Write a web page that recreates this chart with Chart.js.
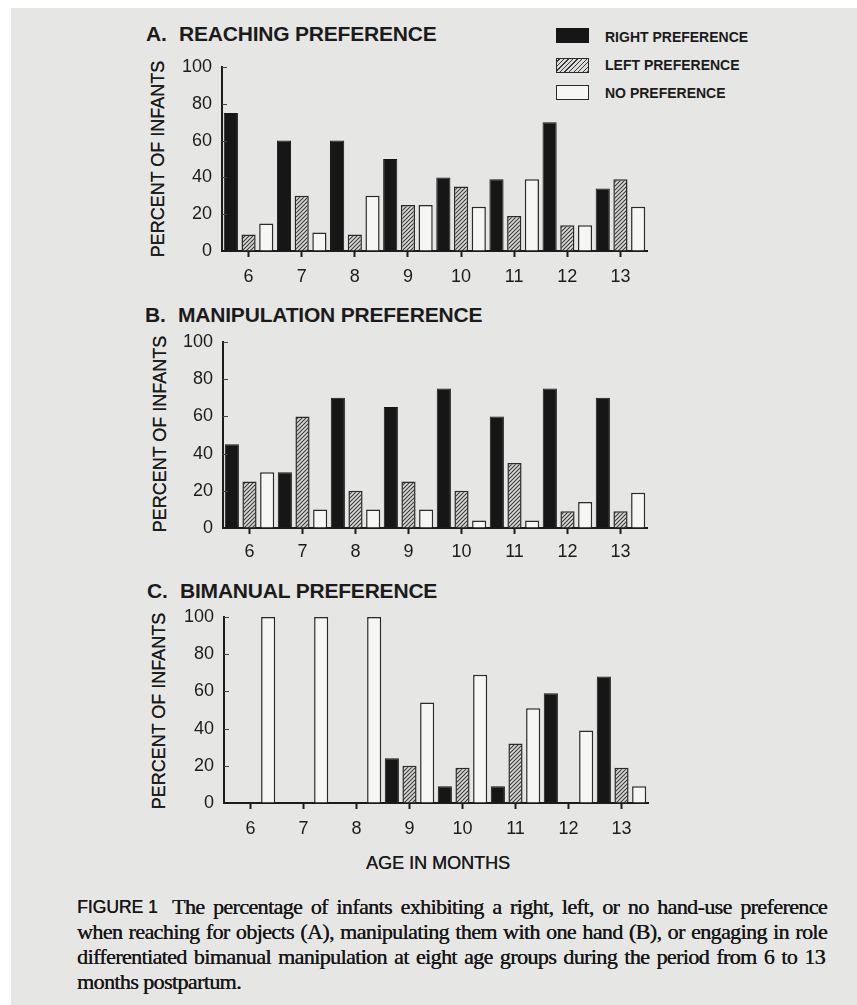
<!DOCTYPE html>
<html>
<head>
<meta charset="utf-8">
<script src="https://cdn.jsdelivr.net/npm/chart.js@4.4.1/dist/chart.umd.min.js"></script>
<style>
  html, body { margin: 0; padding: 0; background: #ffffff; }
  body { width: 857px; height: 1005px; position: relative; overflow: hidden;
         font-family: "Liberation Sans", Arial, sans-serif; color: #1b1b1b; }
  #paper { position: absolute; left: 11px; top: 8px; right: 0; bottom: 0; background: #e6e6e4; }
  canvas.plot { position: absolute; left: 0; }
  .ptitle { position: absolute; font-weight: bold; font-size: 21px; line-height: 21px; white-space: nowrap; letter-spacing: -0.2px; }
  .ptitle .lt { display: inline-block; width: 33px; }
  .ytitle { position: absolute; font-size: 18px; line-height: 18px; white-space: nowrap;
            transform: translate(-50%, -50%) rotate(-90deg); text-shadow: 0 0.3px 0 #1b1b1b; }
  .lg-box { position: absolute; left: 556px; width: 31px; height: 13px; box-sizing: content-box; }
  .lg-text { position: absolute; left: 605px; font-weight: bold; font-size: 14px; line-height: 14px; white-space: nowrap; }
  .xtitle { position: absolute; left: 438px; top: 863px; transform: translate(-50%, -50%); font-size: 18px; white-space: nowrap;
            text-shadow: 0.3px 0 0 #1b1b1b; }
  .cap { position: absolute; font-family: "Liberation Serif", "Times New Roman", serif;
         font-size: 22px; line-height: 25px; white-space: nowrap; letter-spacing: -0.6px; color: #161616;
         text-shadow: 0.3px 0 0 #161616; }
  .fig { position: absolute; left: 77px; top: 897px; font-family: "Liberation Sans", Arial, sans-serif;
         font-size: 17.5px; line-height: 20px; white-space: nowrap; color: #161616; text-shadow: 0.4px 0 0 #161616; }
</style>
</head>
<body>
<div id="paper"></div>

<div class="ptitle" style="left:146px; top:23px;"><span class="lt">A.</span>REACHING PREFERENCE</div>
<div class="ptitle" style="left:145px; top:304px;"><span class="lt">B.</span>MANIPULATION PREFERENCE</div>
<div class="ptitle" style="left:147px; top:580px;"><span class="lt">C.</span>BIMANUAL PREFERENCE</div>

<div class="ytitle" style="left:158px; top:159px;">PERCENT OF INFANTS</div>
<div class="ytitle" style="left:160px; top:434px;">PERCENT OF INFANTS</div>
<div class="ytitle" style="left:159px; top:711px;">PERCENT OF INFANTS</div>

<div class="lg-box" style="top:28px; background:#161616; border:1px solid #161616;"></div>
<div class="lg-box" style="top:58px; border:1px solid #2a2a2a; background:repeating-linear-gradient(-45deg, #3a3a3a 0 1px, #dcdcdc 1px 3.2px);"></div>
<div class="lg-box" style="top:85px; border:1.5px solid #2a2a2a; background:#f6f6f4;"></div>
<div class="lg-text" style="top:30px;">RIGHT PREFERENCE</div>
<div class="lg-text" style="top:58px;">LEFT PREFERENCE</div>
<div class="lg-text" style="top:86px;">NO PREFERENCE</div>

<canvas id="chartA" class="plot" width="857" height="250" style="top:45px;"></canvas>
<canvas id="chartB" class="plot" width="857" height="250" style="top:320px;"></canvas>
<canvas id="chartC" class="plot" width="857" height="250" style="top:595px;"></canvas>

<div class="xtitle">AGE IN MONTHS</div>

<div class="fig">FIGURE 1</div>
<span class="cap" data-right="827" style="left:172px; top:894px;">The percentage of infants exhibiting a right, left, or no hand-use preference</span>
<span class="cap" data-right="827" style="left:77px; top:919px;">when reaching for objects (A), manipulating them with one hand (B), or engaging in role</span>
<span class="cap" data-right="825" style="left:77px; top:944px;">differentiated bimanual manipulation at eight age groups during the period from 6 to 13</span>
<span class="cap" style="left:77px; top:969px;">months postpartum.</span>

<script>
// Age groups (months) on the x axis
const ageMonths = ['6', '7', '8', '9', '10', '11', '12', '13'];
// Y axis tick values (percent of infants)
const percentTicks = [0, 20, 40, 60, 80, 100];

// A. Reaching preference (% of infants)
const reachRight = [75, 60, 60, 50, 40, 39, 70, 34];
const reachLeft  = [9, 30, 9, 25, 35, 19, 14, 39];
const reachNone  = [15, 10, 30, 25, 24, 39, 14, 24];

// B. Manipulation preference (% of infants)
const manipRight = [45, 30, 70, 65, 75, 60, 75, 70];
const manipLeft  = [25, 60, 20, 25, 20, 35, 9, 9];
const manipNone  = [30, 10, 10, 10, 4, 4, 14, 19];

// C. Bimanual preference (% of infants)
const biRight = [0, 0, 0, 24, 9, 9, 59, 68];
const biLeft  = [0, 0, 0, 20, 19, 32, 0, 19];
const biNone  = [100, 100, 100, 54, 69, 51, 39, 9];

const seriesNames = ['RIGHT PREFERENCE', 'LEFT PREFERENCE', 'NO PREFERENCE'];

const INK = '#1c1c1c';

// Justify caption lines: squeeze or spread the line to reach the right margin
document.querySelectorAll('.cap[data-right]').forEach(el => {
  const left = parseFloat(el.style.left);
  const target = parseFloat(el.dataset.right) - left;
  const gaps = (el.textContent.match(/ /g) || []).length;
  const natural = el.getBoundingClientRect().width;
  let extra = (target - natural) / gaps;
  if (extra < -1.5) {
    const chars = el.textContent.length;
    const ls = parseFloat(getComputedStyle(el).letterSpacing) || 0;
    el.style.letterSpacing = (ls + (target - natural + gaps * 1.5) / chars) + 'px';
    const n2 = el.getBoundingClientRect().width;
    extra = (target - n2) / gaps;
  }
  el.style.wordSpacing = extra + 'px';
});

// Diagonal hatch fill for the left-preference bars
function makeHatch() {
  const s = 4;
  const c = document.createElement('canvas');
  c.width = s; c.height = s;
  const g = c.getContext('2d');
  g.fillStyle = '#dadad8';
  g.fillRect(0, 0, s, s);
  g.strokeStyle = '#3a3a3a';
  g.lineWidth = 1.1;
  g.beginPath();
  g.moveTo(0, s); g.lineTo(s, 0);
  g.moveTo(-1, 1); g.lineTo(1, -1);
  g.moveTo(s - 1, s + 1); g.lineTo(s + 1, s - 1);
  g.stroke();
  return g.createPattern(c, 'repeat');
}
const hatch = makeHatch();

// Short inward tick marks on the y axis
const innerTicks = {
  id: 'innerTicks',
  afterDatasetsDraw(chart) {
    const y = chart.scales.y;
    const ctx = chart.ctx;
    ctx.save();
    ctx.strokeStyle = '#444';
    ctx.lineWidth = 1;
    y.ticks.forEach(t => {
      if (t.value === 0) return;
      const py = Math.round(y.getPixelForValue(t.value)) + 0.5;
      ctx.beginPath();
      ctx.moveTo(y.right, py);
      ctx.lineTo(y.right + 5, py);
      ctx.stroke();
    });
    ctx.restore();
  }
};

function buildChart(id, right, left, none, geom) {
  const ctx = document.getElementById(id).getContext('2d');
  return new Chart(ctx, {
    type: 'bar',
    data: {
      labels: ageMonths,
      datasets: [
        { label: seriesNames[0], data: right, backgroundColor: '#161616', borderColor: '#161616', borderWidth: 1 },
        { label: seriesNames[1], data: left, backgroundColor: hatch, borderColor: '#2a2a2a', borderWidth: 1.5 },
        { label: seriesNames[2], data: none, backgroundColor: '#f6f6f4', borderColor: '#2a2a2a', borderWidth: 1.5 }
      ]
    },
    options: {
      responsive: false,
      animation: false,
      events: [],
      layout: { padding: { top: geom.padTop, right: 857 - geom.right, left: 0, bottom: 0 } },
      datasets: { bar: { categoryPercentage: 1.0, barPercentage: 0.8 } },
      plugins: { legend: { display: false }, tooltip: { enabled: false } },
      scales: {
        x: {
          offset: true,
          grid: { display: true, offset: false, drawOnChartArea: false, drawTicks: true, tickLength: 6, tickWidth: 2, tickColor: INK },
          border: { display: true, color: INK, width: 2 },
          ticks: { color: INK, font: { family: 'Liberation Sans', size: 18 }, padding: geom.xPad, maxRotation: 0 },
          afterFit: s => { s.height = geom.axisH; }
        },
        y: {
          min: 0, max: 100,
          afterBuildTicks: s => { s.ticks = percentTicks.map(v => ({ value: v })); },
          grid: { display: true, drawOnChartArea: false, drawTicks: false },
          border: { display: true, color: INK, width: 2 },
          ticks: { color: INK, font: { family: 'Liberation Sans', size: 18 }, padding: 10 },
          afterFit: s => { s.width = geom.left; }
        }
      }
    },
    plugins: [innerTicks]
  });
}

buildChart('chartA', reachRight, reachLeft, reachNone, { left: 222, right: 647, padTop: 22, axisH: 44, xPad: 9 });
buildChart('chartB', manipRight, manipLeft, manipNone, { left: 223, right: 647, padTop: 22, axisH: 42, xPad: 7 });
buildChart('chartC', biRight, biLeft, biNone, { left: 224, right: 648, padTop: 22, axisH: 42, xPad: 9 });
</script>
</body>
</html>
